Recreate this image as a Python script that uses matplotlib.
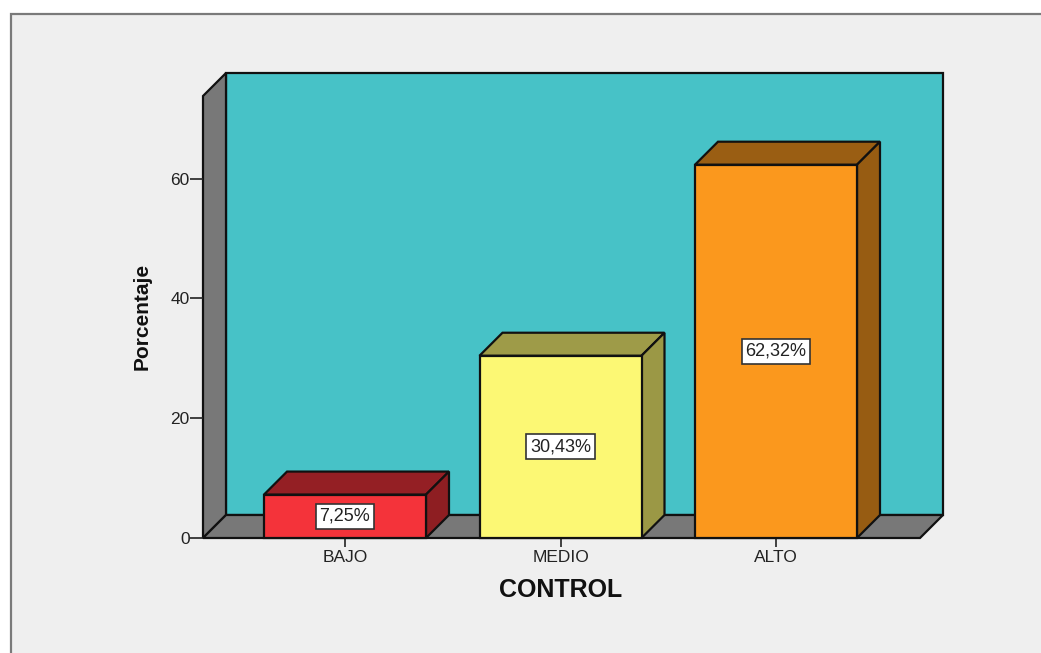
import matplotlib
matplotlib.use("Agg")
import matplotlib.pyplot as plt
from matplotlib.patches import Polygon, Rectangle

plt.rcParams['font.family'] = ['Liberation Sans', 'DejaVu Sans']

categories = ["BAJO", "MEDIO", "ALTO"]
values = [7.25, 30.43, 62.32]
labels = ["7,25%", "30,43%", "62,32%"]
yticks = [0, 20, 40, 60]

front_colors = ["#F4333A", "#FCF874", "#FB981D"]
side_colors = ["#8E1E22", "#9B9845", "#975C12"]
top_colors = ["#941F24", "#9E9B48", "#9A5E13"]
edge = "#111111"

W, H = 1041, 653
fig = plt.figure(figsize=(W / 100, H / 100), dpi=100, facecolor="white")

# grey panel behind the chart, runs off the right and bottom edges
fig.add_artist(Rectangle((10.5 / W, -0.02), 1.05, (H - 14) / H + 0.02, transform=fig.transFigure,
                         facecolor="#EFEFEF", edgecolor="#7A7A7A", linewidth=1.6, zorder=-1))

# axes box = front floor line to back wall right side, zero line to wall top
left, right, bottom, top = 203, 943, 538, 73
ax = fig.add_axes([left / W, (H - bottom) / H, (right - left) / W, (bottom - top) / H])
ax.patch.set_alpha(0)

px_x = 215.5      # pixels per category
px_y = 5.99       # pixels per percent
x0 = (left - 345) / px_x
ax.set_xlim(x0, x0 + (right - left) / px_x)
ax.set_ylim(0, (bottom - top) / px_y)

dx = 23 / px_x    # depth of the fake 3d
dy = 23 / px_y
bw = 162 / px_x
xl = x0
xr = (920 - 345) / px_x
ytop = ax.get_ylim()[1] - dy


def poly(pts, color, z=2, lw=1.6):
    ax.add_patch(Polygon(pts, closed=True, facecolor=color, edgecolor=edge, linewidth=lw,
                         joinstyle="miter", zorder=z, clip_on=False))


# back wall, side wall, floor
poly([(xl + dx, dy), (xr + dx, dy), (xr + dx, ytop + dy), (xl + dx, ytop + dy)], "#47C2C7", 1)
poly([(xl, 0), (xl + dx, dy), (xl + dx, ytop + dy), (xl, ytop)], "#787878", 1)
poly([(xl, 0), (xr, 0), (xr + dx, dy), (xl + dx, dy)], "#787878", 1)

for i, v in enumerate(values):
    a = i - bw / 2
    b = i + bw / 2
    poly([(a, v), (b, v), (b + dx, v + dy), (a + dx, v + dy)], top_colors[i], 3)
    poly([(b, 0), (b + dx, dy), (b + dx, v + dy), (b, v)], side_colors[i], 3)
    poly([(a, 0), (b, 0), (b, v), (a, v)], front_colors[i], 4)
    ax.text(i, v / 2, labels[i], ha="center", va="center", fontsize=13, color="#222222", zorder=5,
            bbox=dict(boxstyle="square,pad=0.22", facecolor="white", edgecolor="#333333", linewidth=1.2))

for s in ax.spines.values():
    s.set_visible(False)
ax.set_xticks(range(len(categories)))
ax.set_xticklabels(categories)
ax.set_yticks(yticks)
ax.tick_params(axis="both", labelsize=12.5, colors="#222222", width=1.2)
ax.tick_params(axis="x", length=6.5, pad=2)
ax.tick_params(axis="y", length=9.2, pad=0.5)

fig.text(142 / W, 1 - 316 / H, "Porcentaje", rotation=90, ha="center", va="center",
         fontsize=15, fontweight="bold", color="#111111")
fig.text(561 / W, 1 - 590 / H, "CONTROL", ha="center", va="center",
         fontsize=18, fontweight="bold", color="#111111")

fig.savefig("out.png", dpi=100, facecolor=fig.get_facecolor())
